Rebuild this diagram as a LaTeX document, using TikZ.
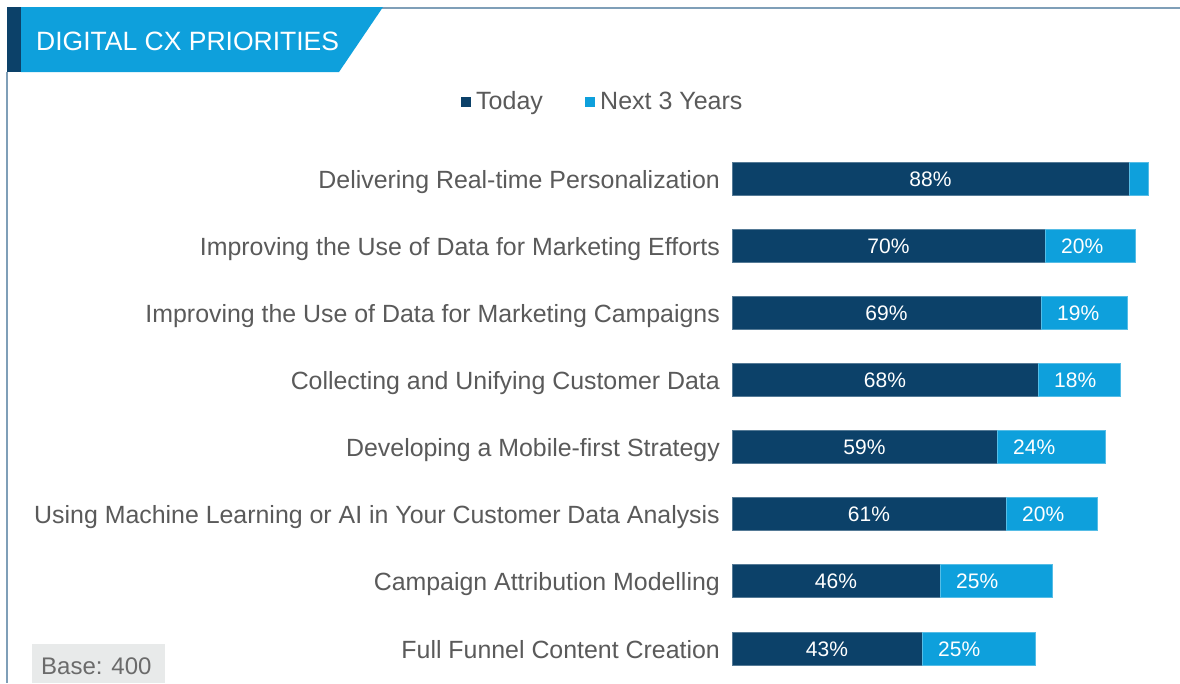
\documentclass[tikz,border=0pt]{standalone}
\usepackage{fontspec}
\setmainfont{Liberation Sans}
\definecolor{darkbar}{HTML}{0C4169}
\definecolor{lightbar}{HTML}{0EA0DC}
\definecolor{framec}{HTML}{7F9FB8}
\definecolor{labelc}{HTML}{5A5A5A}
\definecolor{basebg}{HTML}{E8EAEA}
\begin{document}
\begin{tikzpicture}[x=1pt,y=-1pt,
  framel/.style={draw=framec,line width=2pt},
  catlabel/.style={anchor=base east,inner sep=0pt,text=labelc,font=\fontsize{24.9}{27}\selectfont},
  vallabel/.style={anchor=base,inner sep=0pt,text=white,font=\fontsize{21}{23}\selectfont},
  legtext/.style={anchor=base west,inner sep=0pt,text=labelc,font=\fontsize{25}{27}\selectfont},
  todaybar/.style={fill=darkbar,draw=darkbar!70!white,line width=0.6pt},
  nextbar/.style={fill=lightbar,draw=lightbar!70!white,line width=0.6pt}]
\useasboundingbox (0,0) rectangle (1180,683);
\fill[white] (0,0) rectangle (1180,683);
% frame
\coordinate (ftl) at (380,8);
\coordinate (ftr) at (1180,8);
\coordinate (fl1) at (7,72);
\coordinate (fl2) at (7,683);
\draw[framel] (ftl) -- (ftr);
\draw[framel] (fl1) -- (fl2);
% title banner
\fill[darkbar] (7,7) rectangle (21,72);
\fill[lightbar] (21,7) -- (383,7) -- (339,72) -- (21,72) -- cycle;
\node[anchor=west,inner sep=0pt,text=white,font=\fontsize{26.5}{28}\selectfont] (title) at (36,41) {DIGITAL CX PRIORITIES};
% legend
\fill[darkbar] (461,97) rectangle (471,107);
\node[legtext] (legtoday) at (476,109.5) {Today};
\fill[lightbar] (585,97) rectangle (595,107);
\node[legtext] (legnext) at (600,109.5) {Next 3 Years};
% bars
\foreach \i/\y/\d/\e/\lab/\tv/\nv in {
 1/179/1129/1148/{Delivering Real-time Personalization}/88\%/{},
 2/246/1045/1135/{Improving the Use of Data for Marketing Efforts}/70\%/20\%,
 3/313/1041/1127/{Improving the Use of Data for Marketing Campaigns}/69\%/19\%,
 4/380/1038/1120/{Collecting and Unifying Customer Data}/68\%/18\%,
 5/447/997/1105/{Developing a Mobile-first Strategy}/59\%/24\%,
 6/514/1006/1097/{Using Machine Learning or AI in Your Customer Data Analysis}/61\%/20\%,
 7/581/940/1052/{Campaign Attribution Modelling}/46\%/25\%,
 8/649/922/1035/{Full Funnel Content Creation}/43\%/25\%}{
  \path[todaybar] (732,\y-16.5) rectangle (\d,\y+16.5);
  \path[nextbar] (\d,\y-16.5) rectangle (\e,\y+16.5);
  \node[catlabel] (cat\i) at (720,\y+9) {\lab};
  \node[vallabel] (tv\i) at ({(732+\d)/2},\y+7) {\tv};
  \node[vallabel,anchor=base west] (nv\i) at (\d+16,\y+7) {\nv};
}
% base
\fill[basebg] (32,644) rectangle (165,683);
\node[anchor=base west,inner sep=0pt,text=labelc!90!white,font=\fontsize{24}{26}\selectfont] (base) at (41,674) {Base: 400};
\end{tikzpicture}
\end{document}
